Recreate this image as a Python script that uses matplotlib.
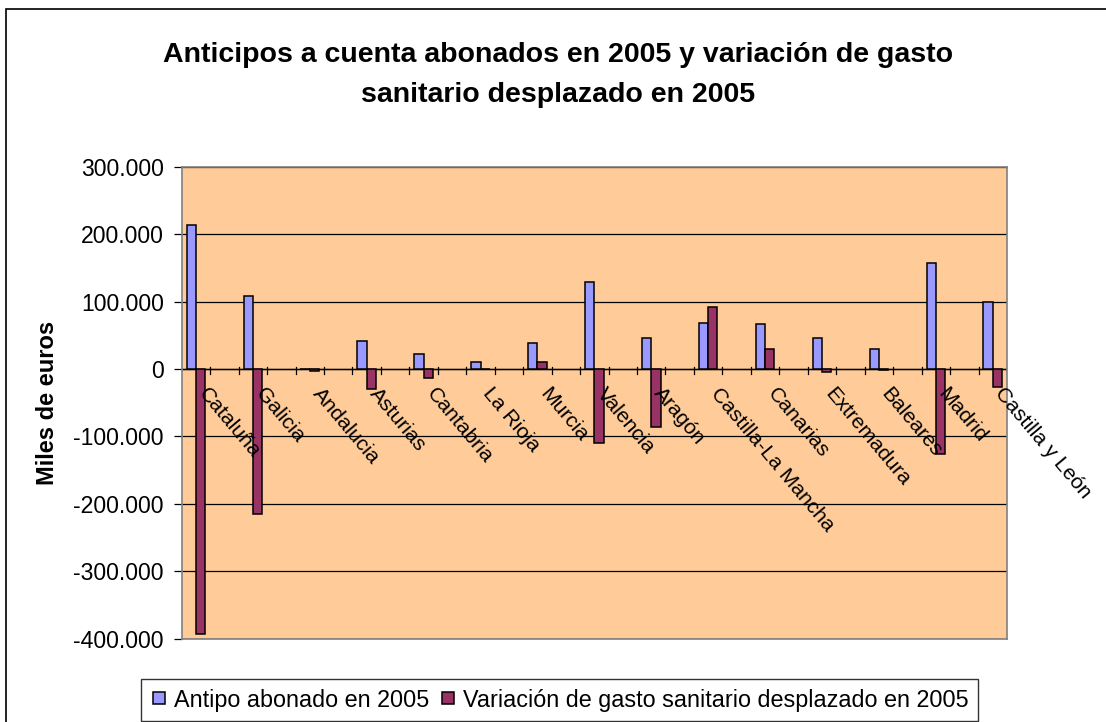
import matplotlib
matplotlib.use("Agg")
import matplotlib.pyplot as plt
import matplotlib.transforms as mtransforms
from matplotlib.patches import Rectangle
from matplotlib.lines import Line2D
from matplotlib.ticker import FuncFormatter, MultipleLocator
import numpy as np

plt.rcParams['font.family'] = ['Liberation Sans', 'DejaVu Sans']

regiones = ['Cataluña', 'Galicia', 'Andalucia', 'Asturias', 'Cantabria', 'La Rioja',
            'Murcia', 'Valencia', 'Aragón', 'Castilla-La Mancha', 'Canarias',
            'Extremadura', 'Baleares', 'Madrid', 'Castilla y León']
anticipos = [213000, 108000, 0, 41000, 22000, 11000, 38000, 129000, 46000,
             68000, 66000, 46000, 30000, 156500, 100000]
variacion = [-393000, -215000, -2500, -29500, -14000, 0, 11000, -110000, -86000,
             92000, 30000, -5000, -2000, -126000, -26500]
series_names = ['Antipo abonado en 2005',
                'Variación de gasto sanitario desplazado en 2005']
colores = ['#9999FF', '#993366']

W, H = 1106, 722
fig = plt.figure(figsize=(W / 100, H / 100), dpi=100)
ax_l, ax_r, ax_t, ax_b = 181.7, 1007, 166.7, 638.7
ax = fig.add_axes([ax_l / W, 1 - ax_b / H, (ax_r - ax_l) / W, (ax_b - ax_t) / H])
ax.set_facecolor('#FFCC99')

# categories sit on every other slot (blank rows between them in the source sheet)
x = np.arange(len(regiones)) * 2
w = 0.327
ax.bar(x - w / 2, anticipos, w, color=colores[0], edgecolor='black', linewidth=1.1, zorder=3)
ax.bar(x + w / 2, variacion, w, color=colores[1], edgecolor='black', linewidth=1.1, zorder=3)

ax.set_xlim(-0.5, 2 * len(regiones) - 1.5)
ax.set_ylim(-400000, 300000)
ax.yaxis.set_major_locator(MultipleLocator(100000))
ax.yaxis.set_major_formatter(FuncFormatter(lambda v, p: f"{int(v):,}".replace(',', '.')))
ax.grid(axis='y', color='black', linewidth=0.9, zorder=1)
ax.axhline(0, color='black', linewidth=1.0, zorder=2)

# tick marks crossing the zero line, between slots
for k in np.arange(0.5, 2 * len(regiones) - 1.0, 1.0):
    ax.plot([k, k], [-7000, 3500], color='black', linewidth=0.9, zorder=2)
ax.set_xticks([])

for sp in ax.spines.values():
    sp.set_color('#808080')
    sp.set_linewidth(1.2)

ax.tick_params(axis='y', direction='out', length=5.5, width=0.9, pad=7.5,
               labelsize=16.6, color='black')

# category labels hanging below the zero line
off = mtransforms.ScaledTranslation(6 / 100, -21 / 100, fig.dpi_scale_trans)
for xi, name in zip(x, regiones):
    ax.text(xi, 0, name, rotation=-50, rotation_mode='anchor', ha='left', va='center',
            fontsize=15.2, transform=ax.transData + off, zorder=4)

ax.set_ylabel('Miles de euros', fontsize=17, fontweight='bold')
ax.yaxis.set_label_coords((59 - ax_l) / (ax_r - ax_l), 0.5)

fig.text(558 / W, 1 - 75 / H,
         'Anticipos a cuenta abonados en 2005 y variación de gasto\nsanitario desplazado en 2005',
         ha='center', va='center', fontsize=20.5, fontweight='bold', linespacing=1.7)

handles = [Line2D([], [], ls='', marker='s', markersize=8.5, markerfacecolor=c,
                  markeredgecolor='black', markeredgewidth=1.1) for c in colores]
leg = fig.legend(handles, series_names, loc='center',
                 bbox_to_anchor=(559.5 / W, 1 - 700 / H), ncol=2,
                 fontsize=16.8, frameon=True, fancybox=False, handlelength=0.7,
                 handletextpad=0.3, columnspacing=0.45, borderpad=0.4, borderaxespad=0)
leg.get_frame().set_edgecolor('black')
leg.get_frame().set_linewidth(1.0)

fig.patches.append(Rectangle((6 / W, -0.2), 1.2, 1 - 9 / H + 0.2, transform=fig.transFigure,
                             fill=False, edgecolor='black', linewidth=1.2))

fig.savefig('out.png', dpi=100)
